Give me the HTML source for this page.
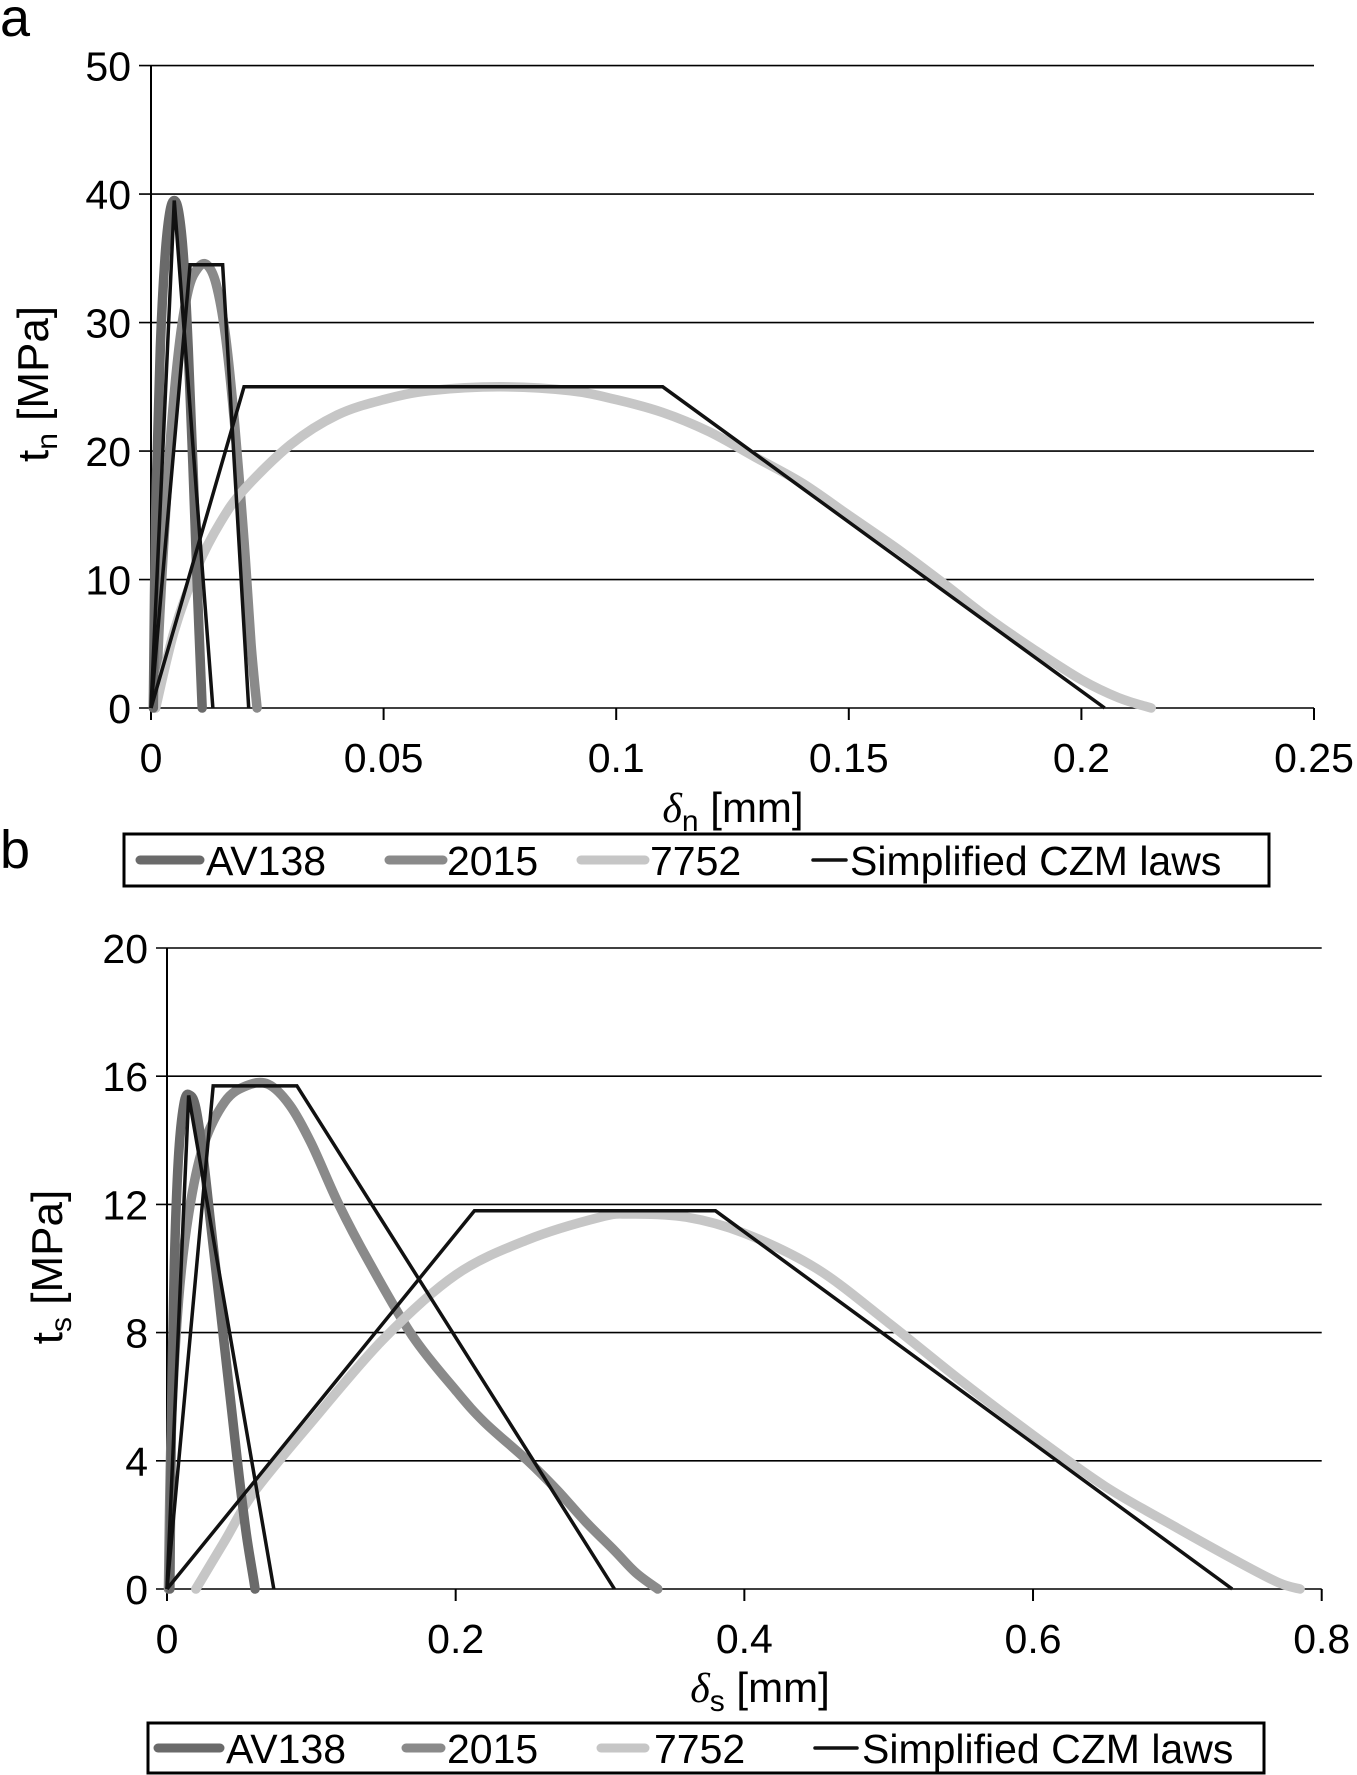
<!DOCTYPE html>
<html><head><meta charset="utf-8"><style>
html,body{margin:0;padding:0;background:#fff;}
svg{display:block;font-family:"Liberation Sans",Arial,sans-serif;}
</style></head><body>
<svg id="fig" width="1357" height="1775" viewBox="0 0 1357 1775" xmlns="http://www.w3.org/2000/svg">
<text x="0" y="36" font-size="54">a</text>
<text x="0" y="868" font-size="54">b</text>
<g id="pa"></g>
<g id="pb"></g>
</svg>
<script>
// ---------- Chart A data ----------
const aYTicks = [0,10,20,30,40,50];
const aXTicks = [0,0.05,0.1,0.15,0.2,0.25];
const aXLabels = ["0","0.05","0.1","0.15","0.2","0.25"];
const aAV138 = [[0.0005,0],[0.001,15],[0.002,28],[0.003,35],[0.004,38.5],[0.005,39.5],[0.006,38.5],[0.007,35],[0.008,28],[0.009,19],[0.010,9],[0.011,0]];
const a2015 = [[0.001,0],[0.002,8],[0.004,20],[0.006,28],[0.008,32.5],[0.010,34.2],[0.012,34.5],[0.014,33],[0.016,29],[0.018,22],[0.020,13],[0.0215,5],[0.0228,0]];
const a7752 = [[0.001,0],[0.005,6],[0.01,11],[0.015,14.5],[0.02,17],[0.03,20.5],[0.04,22.8],[0.05,24],[0.06,24.7],[0.075,25],[0.09,24.7],[0.1,24],[0.11,23],[0.12,21.5],[0.13,19.5],[0.14,17.5],[0.15,15],[0.16,12.5],[0.17,9.8],[0.18,7],[0.19,4.5],[0.2,2.2],[0.208,0.8],[0.215,0]];
const aSimpAV138 = [[0,0],[0.005,39.5],[0.0133,0]];
const aSimp2015 = [[0,0],[0.0084,34.5],[0.0154,34.5],[0.021,0]];
const aSimp7752 = [[0,0],[0.02,25],[0.11,25],[0.205,0]];
// ---------- Chart B data ----------
const bYTicks = [0,4,8,12,16,20];
const bXTicks = [0,0.2,0.4,0.6,0.8];
const bXLabels = ["0","0.2","0.4","0.6","0.8"];
const bAV138 = [[0.002,0],[0.003,5],[0.005,10],[0.008,13.5],[0.012,15.2],[0.016,15.4],[0.02,15],[0.025,13.5],[0.03,11.5],[0.035,9.5],[0.04,7.5],[0.045,5.5],[0.05,3.5],[0.055,1.7],[0.06,0.3],[0.061,0]];
const b2015 = [[0.001,0],[0.003,5],[0.008,9],[0.015,11.7],[0.025,13.8],[0.04,15.2],[0.055,15.7],[0.07,15.75],[0.085,15.1],[0.1,13.9],[0.119,12],[0.14,10.2],[0.17,7.9],[0.2,6.2],[0.22,5.2],[0.25,4],[0.27,3.1],[0.29,2.1],[0.31,1.2],[0.325,0.5],[0.34,0]];
const b7752 = [[0.02,0],[0.04,1.5],[0.06,3],[0.1,5.2],[0.15,7.8],[0.2,9.8],[0.25,10.9],[0.3,11.6],[0.32,11.7],[0.36,11.6],[0.4,11.1],[0.45,10],[0.5,8.3],[0.55,6.5],[0.6,4.8],[0.65,3.2],[0.7,1.9],[0.74,0.9],[0.77,0.2],[0.785,0]];
const bSimpAV138 = [[0,0],[0.015,15.4],[0.074,0]];
const bSimp2015 = [[0,0],[0.032,15.7],[0.09,15.7],[0.31,0]];
const bSimp7752 = [[0,0],[0.213,11.8],[0.38,11.8],[0.738,0]];
const legendNames = ["AV138","2015","7752","Simplified CZM laws"];

const NS="http://www.w3.org/2000/svg";
function mk(parent,tag,attrs){const e=document.createElementNS(NS,tag);for(const k in attrs)e.setAttribute(k,attrs[k]);parent.appendChild(e);return e;}
function smooth(pts){
  let d='M'+pts[0][0]+','+pts[0][1];
  for(let i=0;i<pts.length-1;i++){
    const p0=pts[Math.max(i-1,0)],p1=pts[i],p2=pts[i+1],p3=pts[Math.min(i+2,pts.length-1)];
    const c1=[p1[0]+(p2[0]-p0[0])/6,p1[1]+(p2[1]-p0[1])/6];
    const c2=[p2[0]-(p3[0]-p1[0])/6,p2[1]-(p3[1]-p1[1])/6];
    d+=' C'+c1[0]+','+c1[1]+' '+c2[0]+','+c2[1]+' '+p2[0]+','+p2[1];
  }
  return d;
}

function chart(g,cfg){
  const sx=v=>cfg.x0+(v-cfg.xmin)/(cfg.xmax-cfg.xmin)*(cfg.x1-cfg.x0);
  const sy=v=>cfg.y0-(v-cfg.ymin)/(cfg.ymax-cfg.ymin)*(cfg.y0-cfg.y1);
  cfg.yTicks.forEach(t=>{
    const l=mk(g,'line',{x1:cfg.gl,x2:sx(cfg.xmax),y1:sy(t),y2:sy(t),stroke:'#000','stroke-width':1.6});
    
    
    const tx=mk(g,'text',{x:cfg.gl-8,y:sy(t)+15,'font-size':41,'text-anchor':'end'});
    tx.textContent=t;
    
    
  });
  const ax=mk(g,'line',{x1:sx(0),x2:sx(0),y1:sy(cfg.ymax),y2:sy(0)+10,stroke:'#000','stroke-width':2});
  
  
  cfg.xTicks.forEach((t,i)=>{
    const tk=mk(g,'line',{x1:sx(t),x2:sx(t),y1:sy(0),y2:sy(0)+12,stroke:'#000','stroke-width':2});
    
    
    const tx=mk(g,'text',{x:sx(t),y:sy(0)+64,'font-size':41,'text-anchor':'middle'});
    tx.textContent=cfg.xLabels[i];
    
    
  });
  const curves=[[cfg.s2015,'#8a8a8a','series-2015'],[cfg.s7752,'#c6c6c6','series-7752'],[cfg.sAV,'#6a6a6a','series-av138']];
  curves.forEach(s=>{
    const p=mk(g,'path',{d:smooth(s[0].map(d=>[sx(d[0]),sy(d[1])])),fill:'none',stroke:s[1],'stroke-width':9.5,'stroke-linejoin':'round','stroke-linecap':'round'});
    
    
  });
  const laws=[[cfg.t1,'simplified-av138'],[cfg.t2,'simplified-2015'],[cfg.t3,'simplified-7752']];
  laws.forEach(s=>{
    const p=mk(g,'polyline',{points:s[0].map(d=>sx(d[0])+','+sy(d[1])).join(' '),fill:'none',stroke:'#111','stroke-width':3.5,'stroke-linejoin':'miter'});
    
    
  });
  const yt=mk(g,'text',{transform:`translate(${cfg.ytx},${cfg.yty}) rotate(-90)`,'font-size':44,'text-anchor':'middle'});
  yt.innerHTML=cfg.ytitle;
  
  
  const xt=mk(g,'text',{x:cfg.xtx,y:cfg.xty,'font-size':42,'text-anchor':'middle'});
  xt.innerHTML=cfg.xtitle;
  
  
  const L=cfg.leg;
  const box=mk(g,'rect',{x:L.x,y:L.y,width:L.w,height:L.h,fill:'#fff',stroke:'#000','stroke-width':3});
  
  
  const cols=['#6a6a6a','#8a8a8a','#c6c6c6','#111'];const wd=[9,9,9,3.5];
  legendNames.forEach((n,i)=>{
    const e=L.e[i];
    const ln=mk(g,'line',{x1:e[0],x2:e[1],y1:L.y+L.h/2,y2:L.y+L.h/2,stroke:cols[i],'stroke-width':wd[i],'stroke-linecap':'round'});
    
    
    const t=mk(g,'text',{x:e[2],y:L.y+L.h/2+15,'font-size':41});
    t.textContent=n;
    
    
  });
}
chart(document.getElementById('pa'),{x0:151,x1:1314,xmin:0,xmax:0.25,y0:708,y1:65.6,ymin:0,ymax:50,gl:139,
  yTicks:aYTicks,xTicks:aXTicks,xLabels:aXLabels,sAV:aAV138,s2015:a2015,s7752:a7752,t1:aSimpAV138,t2:aSimp2015,t3:aSimp7752,
  ytx:48,yty:384,ytitle:'t<tspan font-size="30" dy="9">n</tspan><tspan dy="-9"> [MPa]</tspan>',
  xtx:733,xty:822,xtitle:'<tspan font-family="Liberation Serif" font-style="italic">δ</tspan><tspan font-size="30" dy="9">n</tspan><tspan dy="-9"> [mm]</tspan>',
  leg:{x:124,y:834,w:1145,h:52,e:[[140,200,206],[389,443,447],[581,645,650],[813,846,850]]}});
chart(document.getElementById('pb'),{x0:167,x1:1321.7,xmin:0,xmax:0.8,y0:1589,y1:948,ymin:0,ymax:20,gl:156,
  yTicks:bYTicks,xTicks:bXTicks,xLabels:bXLabels,sAV:bAV138,s2015:b2015,s7752:b7752,t1:bSimpAV138,t2:bSimp2015,t3:bSimp7752,
  ytx:62,yty:1267,ytitle:'t<tspan font-size="30" dy="9">s</tspan><tspan dy="-9"> [MPa]</tspan>',
  xtx:760,xty:1702,xtitle:'<tspan font-family="Liberation Serif" font-style="italic">δ</tspan><tspan font-size="30" dy="9">s</tspan><tspan dy="-9"> [mm]</tspan>',
  leg:{x:148,y:1723,w:1116,h:50,e:[[158,220,226],[406,441,447],[601,645,654],[815,857,862]]}});
</script>
</body></html>
